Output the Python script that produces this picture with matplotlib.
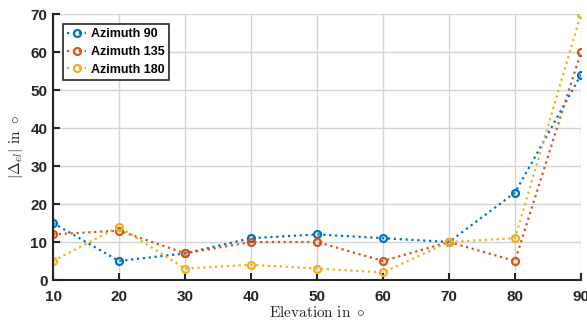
import matplotlib
matplotlib.use("Agg")
import matplotlib.pyplot as plt

elevation = [10, 20, 30, 40, 50, 60, 70, 80, 90]
az90 = [15, 5, 7, 11, 12, 11, 10, 23, 54]
az135 = [12, 13, 7, 10, 10, 5, 10, 5, 60]
az180 = [5, 14, 3, 4, 3, 2, 10, 11, 70]
labels = ["Azimuth 90", "Azimuth 135", "Azimuth 180"]
colors = ["#0072BD", "#D95319", "#EDB120"]

plt.rcParams['mathtext.fontset'] = 'cm'
plt.rcParams['font.family'] = ['Liberation Sans', 'DejaVu Sans']

fig = plt.figure(figsize=(5.87, 3.21), dpi=100)
ax = fig.add_axes([53/587, 1 - 280/321, (581-53)/587, (280-14)/321])

for ys, lab, c in zip([az90, az135, az180], labels, colors):
    ax.plot(elevation, ys, linestyle=':', marker='o', color=c, lw=1.6,
            markersize=5, markerfacecolor='none', markeredgewidth=1.6, label=lab)

ax.set_xlim(10, 90)
ax.set_ylim(0, 70)
ax.set_xticks(elevation)
ax.set_yticks(range(0, 71, 10))
ax.grid(True, color='#d4d4d4', lw=1.0)
ax.set_axisbelow(True)
for s in ['top', 'right']:
    ax.spines[s].set_visible(False)
for s in ['left', 'bottom']:
    ax.spines[s].set_color('#262626')
    ax.spines[s].set_linewidth(1.5)
ax.tick_params(direction='in', length=5, width=1.5, color='#262626',
               labelsize=11, labelcolor='#262626')
ax.tick_params(axis='x', pad=7)
ax.tick_params(axis='y', pad=4)
for t in ax.get_xticklabels() + ax.get_yticklabels():
    t.set_fontweight('bold')

ax.set_xlabel(r'$\mathrm{Elevation\ in\ }\circ$', fontsize=11, color='#262626', labelpad=1)
ax.set_ylabel(r'$|\Delta_{el}|\ \mathrm{in}\ \circ$', fontsize=11, color='#262626', labelpad=4)

leg = ax.legend(loc='upper left', bbox_to_anchor=(0.019, 0.962), fancybox=False,
                edgecolor='#262626', framealpha=1, prop={'weight': 'bold', 'size': 9},
                handlelength=1.5, handletextpad=0.4, labelspacing=0.45, borderpad=0.35,
                borderaxespad=0)
leg.get_frame().set_linewidth(1.2)

fig.savefig('out.png', dpi=100)
